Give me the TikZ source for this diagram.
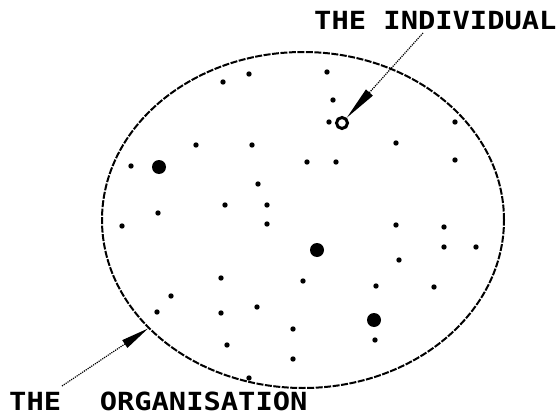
\documentclass[tikz,border=0pt]{standalone}
\usepackage{fontspec}
\newfontfamily\plotfont[FakeStretch=1.15]{DejaVu Sans Mono}
\usetikzlibrary{arrows.meta,shapes.geometric}

\begin{document}
\begin{tikzpicture}[x=1pt,y=-1pt,line width=.45pt,
  lbl/.style={font=\plotfont\bfseries\fontsize{25}{25}\selectfont,inner sep=0pt,anchor=base west},
  pointer/.style={densely dotted,line width=1.2pt,-{Triangle[length=34pt,width=9pt]}}]
\useasboundingbox (0,0) rectangle (560,415);
% the organisation and its members
\node[ellipse,draw,line width=2pt,dash pattern=on 7pt off 1.5pt,
  minimum width=402pt,minimum height=336pt,inner sep=0pt] (org) at (303,220) {};
\foreach \x/\y in {223/82,249/74,327/72,333/100,329/122,455/122,396/143,196/145,
  252/145,131/166,307/162,336/162,455/160,258/184,225/205,267/205,158/213,122/226,
  267/224,396/225,444/227,444/247,476/247,399/260,221/278,303/281,376/286,434/287,
  171/296,257/307,157/312,221/313,293/329,227/345,375/340,293/359,249/378}
  {\fill (\x,\y) circle (2.7pt);}
\foreach \x/\y in {159/167,317/250,374/320}{\fill (\x,\y) circle (7pt);}
\node[circle,draw,line width=3pt,minimum size=11pt,inner sep=0pt] (ind) at (342,123) {};
% labels
\node[lbl] (indlbl) at (314,29) {THE INDIVIDUAL};
\node[lbl] (orglbl) at (9,410) {THE~~\hspace{4pt}ORGANISATION};
\coordinate (indtail) at (423,33); \coordinate (orgtail) at (62,386);
\draw[pointer] (indtail) -- (ind);
\draw[pointer,-{Triangle[length=28pt,width=9pt]}] (orgtail) -- (org.215);
\end{tikzpicture}
\end{document}
